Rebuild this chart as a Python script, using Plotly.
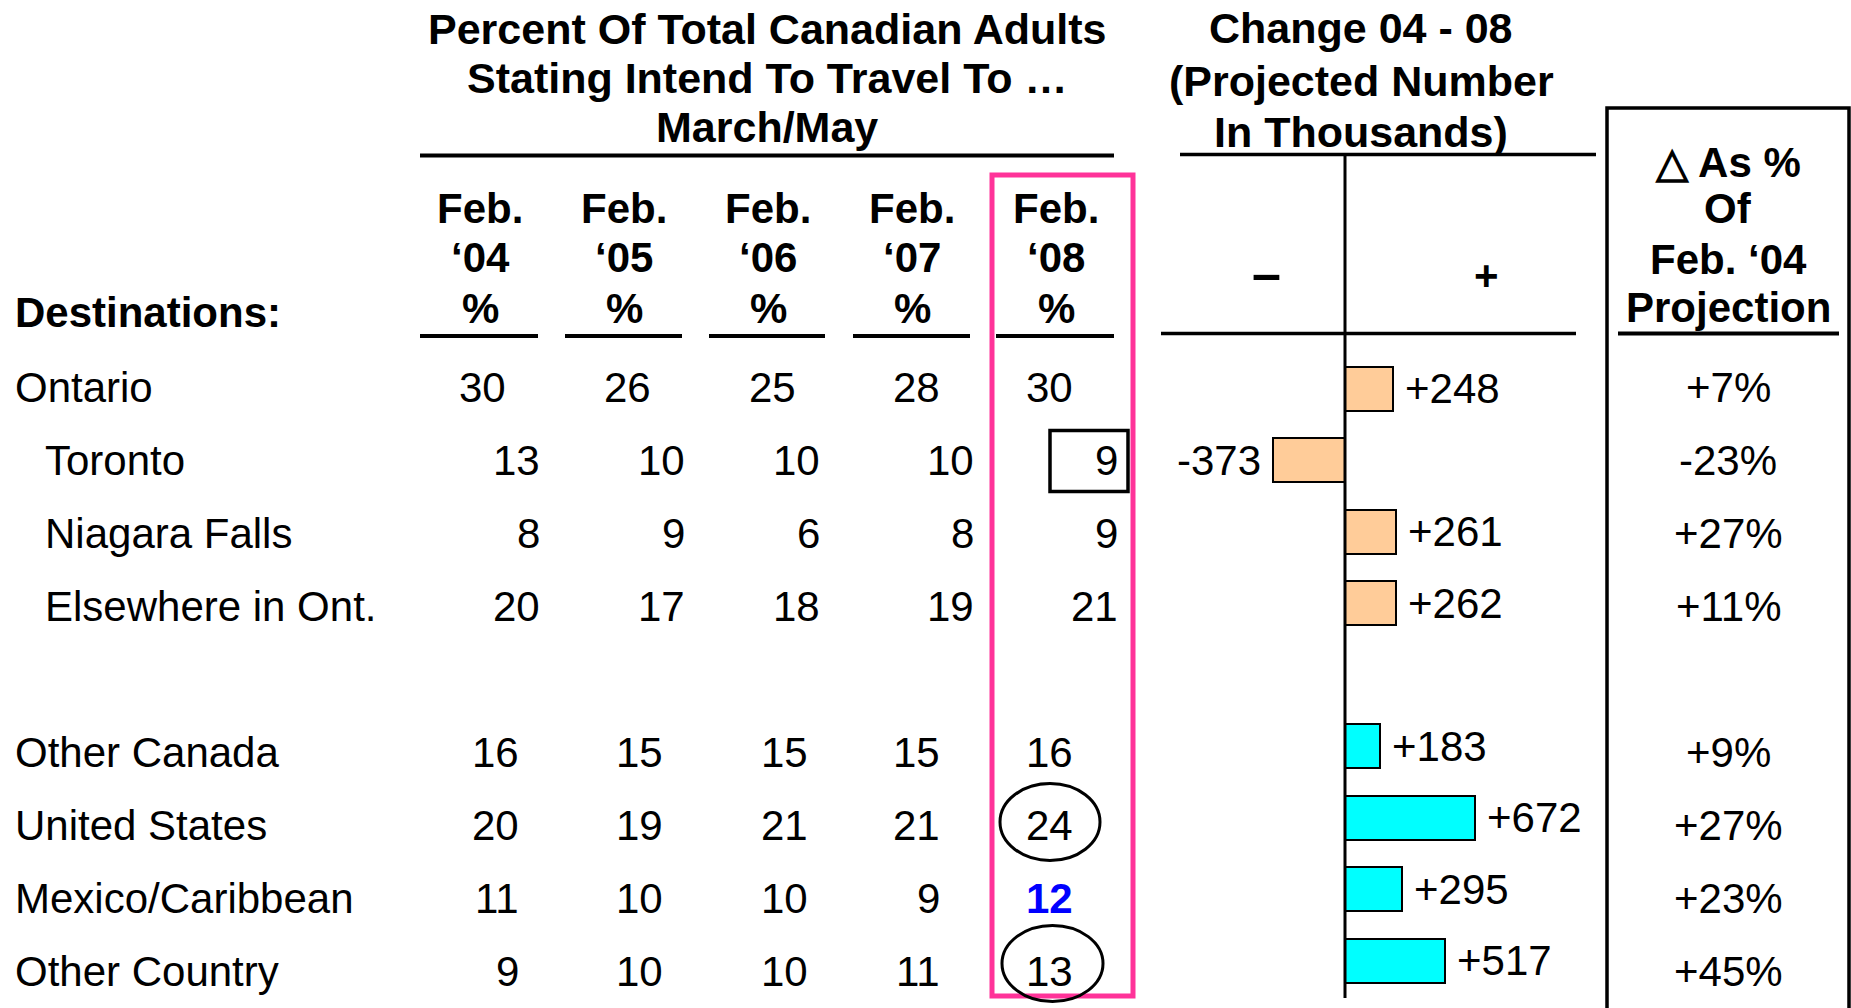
import plotly.graph_objects as go

FONT = "Liberation Sans, Arial, sans-serif"

# table data
destinations = ["Ontario", "Toronto", "Niagara Falls", "Elsewhere in Ont.",
                "Other Canada", "United States", "Mexico/Caribbean", "Other Country"]
row_pos = [0, 1, 2, 3, 5, 6, 7, 8]          # row 4 is the blank spacer
indented = [False, True, True, True, False, False, False, False]
year_labels = ["‘04", "‘05", "‘06", "‘07", "‘08"]
pct_feb04 = [30, 13, 8, 20, 16, 20, 11, 9]
pct_feb05 = [26, 10, 9, 17, 15, 19, 10, 10]
pct_feb06 = [25, 10, 6, 18, 15, 21, 10, 10]
pct_feb07 = [28, 10, 8, 19, 15, 21, 9, 11]
pct_feb08 = [30, 9, 9, 21, 16, 24, 12, 13]
change_thousands = [248, -373, 261, 262, 183, 672, 295, 517]
change_pct = [7, -23, 27, 11, 9, 27, 23, 45]
bar_colors = ["#FFCC99"] * 4 + ["#00FFFF"] * 4

columns = [pct_feb04, pct_feb05, pct_feb06, pct_feb07, pct_feb08]

# layout (pixel) positions
W, H = 1851, 1008
ROW0, STEP = 387.5, 73.0
col_centers = [480, 624, 768, 912, 1056]
col_lines = [(420, 538), (565, 682), (709, 825), (853, 970), (996, 1114)]
right_edges = {
    "top": [508, 653, 798, 942, 1075],
    "sub": [542, 687, 822, 976, 1120],
    "other": [521, 665, 810, 942, 1075],
}


def row_y(r):
    return ROW0 + STEP * r


def note(text, x, y, anchor="center", bold=False, color="black", size=42,
         xref="x", yref="y", xshift=0):
    if bold:
        text = "<b>" + text + "</b>"
    return dict(text=text, x=x, y=y, xref=xref, yref=yref, xanchor=anchor,
                yanchor="middle", showarrow=False, xshift=xshift,
                font=dict(family=FONT, size=size, color=color))


def line(x0, y0, x1, y1, width=4, color="black", xref="x", yref="y"):
    return dict(type="line", x0=x0, y0=y0, x1=x1, y1=y1, xref=xref, yref=yref,
                line=dict(color=color, width=width))


annotations = []
shapes = []

# headers
for txt, y in zip(["Percent Of Total Canadian Adults", "Stating Intend To Travel To …", "March/May"],
                  [29, 78, 127]):
    annotations.append(note(txt, 767, y, bold=True, size=43))
shapes.append(line(420, 155.5, 1114, 155.5))

for i, lab in enumerate(year_labels):
    for txt, y in zip(["Feb.", lab, "%"], [208, 257, 308]):
        annotations.append(note(txt, col_centers[i], y, bold=True))
    shapes.append(line(col_lines[i][0], 336, col_lines[i][1], 336))
annotations.append(note("Destinations:", 13, 312, anchor="left", bold=True))

for txt, y in zip(["Change 04 - 08", "(Projected Number", "In Thousands)"], [28, 81, 132]):
    annotations.append(note(txt, 1361, y, bold=True, size=43))
shapes.append(line(1180, 154.5, 1596, 154.5, width=3.5))
shapes.append(line(1161, 333.5, 1576, 333.5, width=3.5))
annotations.append(note("–", 1266, 273, bold=True, size=52))
annotations.append(note("+", 1486, 275, bold=True))
shapes.append(line(0, 155, 0, 998, width=3, xref="x2"))

for txt, y in zip(["△ As %", "Of", "Feb. ‘04", "Projection"], [162, 208, 259, 307]):
    annotations.append(note(txt, 1728, y, bold=True))
shapes.append(line(1618, 333.5, 1839, 333.5))
shapes.append(dict(type="path", path="M 1607 1020 L 1607 108 L 1849 108 L 1849 1020",
                   xref="x", yref="y", line=dict(color="black", width=3.5)))

# table body
for k, name in enumerate(destinations):
    r = row_pos[k]
    y = row_y(r)
    annotations.append(note(name, 13 + (30 if indented[k] else 0), y, anchor="left"))
    group = "top" if k == 0 else ("sub" if indented[k] else "other")
    for c, col in enumerate(columns):
        blue = (c == 4 and name == "Mexico/Caribbean")
        annotations.append(note(str(col[k]), right_edges[group][c], y, anchor="right",
                                bold=blue, color="#0000FF" if blue else "black"))
    annotations.append(note(f"{change_pct[k]:+d}%", 1728, y))

    v = change_thousands[k]
    annotations.append(note(f"{v:+d}", v, r, anchor="left" if v > 0 else "right",
                            xref="x2", yref="y2", xshift=10 if v > 0 else -10))

# highlights in the Feb '08 column
shapes.append(dict(type="rect", x0=992, x1=1133, y0=175, y1=996, xref="x", yref="y",
                   line=dict(color="#FF3399", width=5)))
shapes.append(dict(type="rect", x0=1050, x1=1128, y0=row_y(1) - 30, y1=row_y(1) + 31,
                   xref="x", yref="y", line=dict(color="black", width=3.5)))
shapes.append(dict(type="circle", x0=1000, x1=1100, y0=row_y(6) - 42, y1=row_y(6) + 35,
                   xref="x", yref="y", line=dict(color="black", width=3)))
shapes.append(dict(type="circle", x0=1002, x1=1103, y0=row_y(8) - 46, y1=row_y(8) + 30,
                   xref="x", yref="y", line=dict(color="black", width=3)))

fig = go.Figure()
fig.add_trace(go.Scatter(x=[None], y=[None], xaxis="x", yaxis="y", showlegend=False,
                         hoverinfo="skip"))
fig.add_trace(go.Bar(
    x=change_thousands,
    y=row_pos,
    orientation="h",
    width=0.615,
    marker=dict(color=bar_colors, line=dict(color="black", width=2)),
    xaxis="x2", yaxis="y2",
    showlegend=False,
    hoverinfo="x",
))

PX_PER_K = 0.1935
ZERO_X = 1345
BAR_ROW0, BAR_STEP = 388.5, 71.56

hidden = dict(visible=False, showgrid=False, zeroline=False, fixedrange=True)
fig.update_layout(
    width=W, height=H,
    margin=dict(l=0, r=0, t=0, b=0),
    paper_bgcolor="white", plot_bgcolor="rgba(0,0,0,0)",
    xaxis=dict(range=[0, W], domain=[0, 1], **hidden),
    yaxis=dict(range=[H, 0], domain=[0, 1], **hidden),
    xaxis2=dict(range=[-ZERO_X / PX_PER_K, (W - ZERO_X) / PX_PER_K], domain=[0, 1],
                anchor="y2", overlaying="x", **hidden),
    yaxis2=dict(range=[(H - BAR_ROW0) / BAR_STEP, -BAR_ROW0 / BAR_STEP], domain=[0, 1],
                anchor="x2", overlaying="y", **hidden),
    annotations=annotations,
    shapes=shapes,
    bargap=0,
)

# the page has a default 8px body margin; drop it so the chart fills the window
fig.write_html("out.html", config={"displayModeBar": False},
               post_script="document.body.style.margin='0';document.body.style.overflow='hidden';")
